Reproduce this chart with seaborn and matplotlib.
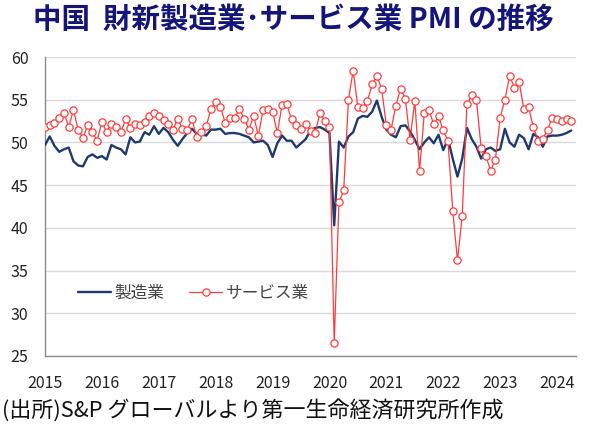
import numpy as np
import pandas as pd
import matplotlib
matplotlib.use("Agg")
import matplotlib.pyplot as plt
import seaborn as sns

# Caixin China PMI, monthly Jan 2015 - Apr 2024
manufacturing = [
    49.7, 50.7, 49.6, 48.9, 49.2, 49.4, 47.8, 47.3, 47.2, 48.3, 48.6, 48.2,
    48.4, 48.0, 49.7, 49.4, 49.2, 48.6, 50.6, 50.0, 50.1, 51.2, 50.9, 51.9,
    51.0, 51.7, 51.2, 50.3, 49.6, 50.4, 51.1, 51.6, 51.0, 51.0, 50.8, 51.5,
    51.5, 51.6, 51.0, 51.1, 51.1, 51.0, 50.8, 50.6, 50.0, 50.1, 50.2, 49.7,
    48.3, 49.9, 50.8, 50.2, 50.2, 49.4, 49.9, 50.4, 51.4, 51.7, 51.8, 51.5,
    51.1, 40.3, 50.1, 49.4, 50.7, 51.2, 52.8, 53.1, 53.0, 53.6, 54.9, 53.0,
    51.5, 50.9, 50.6, 51.9, 52.0, 51.3, 50.3, 49.2, 50.0, 50.6, 49.9, 50.9,
    49.1, 50.4, 48.1, 46.0, 48.1, 51.7, 50.4, 49.5, 48.1, 49.2, 49.4, 49.0,
    49.2, 51.6, 50.0, 49.5, 50.9, 50.5, 49.2, 51.0, 50.6, 49.5, 50.7, 50.8,
    50.8, 50.9, 51.1, 51.4,
]
services = [
    51.8, 52.0, 52.3, 52.9, 53.5, 51.8, 53.8, 51.5, 50.5, 52.0, 51.2, 50.2,
    52.4, 51.2, 52.2, 51.8, 51.2, 52.7, 51.7, 52.1, 52.0, 52.4, 53.1, 53.4,
    53.1, 52.6, 52.1, 51.5, 52.8, 51.6, 51.5, 52.7, 50.6, 51.2, 51.9, 53.9,
    54.7, 54.2, 52.3, 52.9, 52.9, 53.9, 52.8, 51.5, 53.1, 50.8, 53.8, 53.9,
    53.6, 51.1, 54.4, 54.5, 52.7, 52.0, 51.6, 52.1, 51.3, 51.1, 53.5, 52.5,
    51.8, 26.5, 43.0, 44.4, 55.0, 58.4, 54.1, 54.0, 54.8, 56.8, 57.8, 56.3,
    52.0, 51.5, 54.3, 56.3, 55.1, 50.3, 54.9, 46.7, 53.4, 53.8, 52.1, 53.1,
    51.4, 50.2, 42.0, 36.2, 41.4, 54.5, 55.5, 55.0, 49.3, 48.4, 46.7, 48.0,
    52.9, 55.0, 57.8, 56.4, 57.1, 53.9, 54.1, 51.8, 50.2, 50.4, 51.5, 52.9,
    52.7, 52.5, 52.7, 52.5,
]
year_labels = [str(y) for y in range(2015, 2025)]
series_names = ["製造業", "サービス業"]
title = "中国  財新製造業･サービス業 PMI の推移"
source = "(出所)S&P グローバルより第一生命経済研究所作成"

n = len(manufacturing)
t = 2015 + np.arange(n) / 12.0
df = pd.concat([
    pd.DataFrame({"t": t, "v": manufacturing, "s": series_names[0]}),
    pd.DataFrame({"t": t, "v": services, "s": series_names[1]}),
])

sns.set_theme(style="white")
plt.rcParams["font.family"] = ["Noto Sans CJK JP", "DejaVu Sans"]

fig = plt.figure(figsize=(5.91, 4.34), dpi=100)
ax = fig.add_axes([45/591, 1-356/434, (576-45)/591, (356-57)/434])

navy = "#1f3a6e"
red = "#ff3b3b"
sns.lineplot(data=df[df.s == series_names[0]], x="t", y="v", ax=ax,
             color=navy, linewidth=1.7, label=series_names[0], zorder=3)
sns.lineplot(data=df[df.s == series_names[1]], x="t", y="v", ax=ax,
             color=red, linewidth=0.9, marker="o", markersize=5.2,
             markerfacecolor="white", markeredgecolor=red, markeredgewidth=0.9,
             label=series_names[1], zorder=4)

ax.set_xlim(2015, 2024 + 4/12)
ax.set_ylim(25, 60)
ax.set_yticks(range(25, 61, 5))
ax.set_xticks(range(2015, 2025))
ax.set_xticklabels(year_labels)
ax.set_xlabel("")
ax.set_ylabel("")
ax.grid(axis="y", color="#d9d9d9", linewidth=1.0)
ax.set_axisbelow(True)
for side in ["top", "right"]:
    ax.spines[side].set_visible(False)
for side in ["left", "bottom"]:
    ax.spines[side].set_color("#8c8c8c")
    ax.spines[side].set_linewidth(1.0)
ax.tick_params(axis="y", length=0, pad=12, labelsize=11.5, labelcolor="#222222")
ax.tick_params(axis="x", direction="in", length=4, width=1, color="#8c8c8c",
               pad=14, labelsize=11.5, labelcolor="#222222")

leg = ax.legend(loc="center left", bbox_to_anchor=(0.033, 0.21), ncol=2,
                frameon=False, fontsize=12, handlelength=2.0, handletextpad=0.2,
                columnspacing=1.5, labelcolor="#444444")

fig.text(0.497, 1-20/434, title, ha="center", va="center", fontsize=20.5,
         fontweight="bold", color="#14147a")
fig.text(2/591, 1-410/434, source, ha="left", va="center", fontsize=15.8,
         color="#111111")

fig.savefig("out.png", dpi=100)
